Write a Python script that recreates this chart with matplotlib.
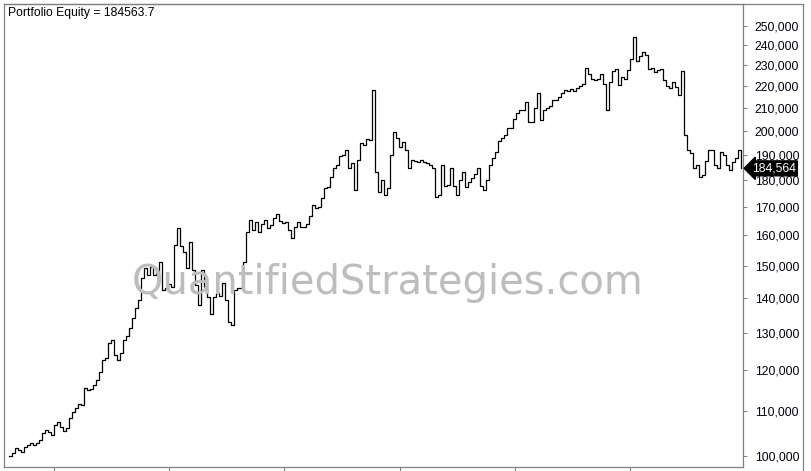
import numpy as np
import matplotlib
matplotlib.use('Agg')
import matplotlib.pyplot as plt
from matplotlib.ticker import FixedLocator, FuncFormatter, NullLocator, NullFormatter
from matplotlib.lines import Line2D

plt.rcParams['font.family'] = ['Liberation Sans', 'DejaVu Sans']

# portfolio equity in thousands
equity_k = [
    100.0, 100.6, 101.7, 101.3, 100.9, 101.9, 102.4, 102.8, 102.4, 102.8,
    103.5, 105.0, 105.7, 105.3, 104.6, 106.8, 107.5, 106.3, 105.5, 106.2,
    108.4, 109.8, 110.8, 111.7, 111.5, 115.6, 115.1, 115.3, 116.3, 117.6,
    119.6, 122.7, 123.2, 127.2, 128.0, 124.0, 122.7, 124.5, 128.0, 129.1,
    131.3, 134.2, 137.1, 139.4, 146.1, 149.2, 147.0, 149.6, 147.0, 147.9,
    151.2, 142.4, 143.0, 144.3, 143.4, 156.8, 162.6, 156.5, 154.4, 149.2,
    157.8, 148.6, 144.0, 137.9, 148.6, 143.4, 140.3, 135.3, 140.3, 141.5,
    140.6, 144.6, 139.4, 133.0, 132.2, 142.4, 143.0, 143.0, 151.2, 161.2,
    165.4, 161.9, 164.7, 161.2, 164.0, 165.4, 162.6, 163.6, 166.1, 167.5,
    165.0, 164.3, 164.7, 161.9, 159.2, 162.9, 164.7, 162.9, 162.9, 164.0,
    166.8, 170.7, 169.6, 170.0, 173.3, 177.0, 177.4, 181.2, 184.7, 185.9,
    189.5, 189.9, 191.9, 184.7, 186.7, 176.3, 187.9, 194.8, 194.0, 196.5,
    196.0, 218.1, 183.1, 175.5, 180.0, 174.4, 177.0, 189.9, 199.4, 196.9,
    193.1, 195.2, 191.9, 184.7, 187.9, 187.5, 187.1, 187.9, 187.1, 186.7,
    185.9, 184.7, 173.6, 174.4, 185.9, 177.8, 178.1, 184.7, 177.8, 174.4,
    180.0, 183.1, 177.4, 179.2, 180.8, 182.4, 184.7, 177.8, 176.3, 180.0,
    185.9, 188.7, 191.1, 195.6, 196.9, 198.2, 201.2, 201.2, 205.0, 207.7,
    209.0, 209.0, 212.6, 203.7, 203.7, 209.9, 216.7, 204.6, 209.0, 209.9,
    210.8, 213.5, 213.5, 214.9, 216.7, 218.1, 217.6, 218.6, 217.6, 219.0,
    220.0, 220.9, 228.6, 225.7, 223.3, 222.8, 223.3, 225.7, 220.9, 209.0,
    221.9, 227.1, 228.1, 220.4, 224.2, 223.3, 227.6, 233.0, 244.1, 232.0,
    234.5, 236.5, 235.0, 228.1, 228.6, 226.6, 227.6, 228.1, 222.8, 220.0,
    219.0, 221.9, 219.6, 215.8, 227.1, 198.2, 191.9, 190.7, 184.7, 185.9,
    181.2, 182.0, 187.5, 191.9, 191.9, 185.9, 184.7, 191.1, 189.9, 185.9,
    183.9, 187.1, 188.7, 191.9, 184.5637,
]
y_ticks = list(range(100000, 250001, 10000))

equity = np.array(equity_k) * 1000
bars = np.arange(len(equity))
last = equity[-1]

W, H = 812, 471
fig = plt.figure(figsize=(W / 100, H / 100), dpi=100)
ax = fig.add_axes([4 / W, 4 / H, 739 / W, 463 / H])

ax.plot(bars, equity, drawstyle='steps-post', color='black', lw=0.9, zorder=3)

ax.set_yscale('log')
ax.set_ylim(97683, 261940)
ax.set_xlim(-1.7, len(equity) - 1 + 0.7)

ax.yaxis.tick_right()
ax.yaxis.set_major_locator(FixedLocator(y_ticks))
ax.yaxis.set_major_formatter(FuncFormatter(lambda v, p: f'{v:,.0f}'))
ax.yaxis.set_minor_locator(NullLocator())
ax.yaxis.set_minor_formatter(NullFormatter())
ax.xaxis.set_major_locator(FixedLocator(np.arange(15, len(equity), 38.4)))

ax.tick_params(axis='y', direction='out', length=2.9, width=0.75, color='#808080',
               pad=5.5, labelsize=8.8, labelcolor='#000010')
ax.tick_params(axis='x', direction='out', length=2.9, width=0.75, color='#808080',
               labelbottom=False)
for s in ax.spines.values():
    s.set_color('#808080')
    s.set_linewidth(0.9)

# last value marker
ax.text((752 - 4) / 739, last, f'{last:,.0f}', transform=ax.get_yaxis_transform(),
        ha='left', va='center', color='white', fontsize=8.8, zorder=5, clip_on=False,
        bbox=dict(boxstyle='larrow,pad=0.12', fc='black', ec='black'))

# outer frame
fig.add_artist(Line2D([4 / W, 803 / W], [1 - 4 / H, 1 - 4 / H], color='#808080', lw=0.9))
fig.add_artist(Line2D([803 / W, 803 / W], [0, 1 - 4 / H], color='#808080', lw=0.9))

fig.text(8 / W, 1 - 16 / H, f'Portfolio Equity = {last:.1f}', ha='left', va='baseline',
         fontsize=8.7, color='black')

# watermark
fig.text(388 / W, 1 - 294 / H, 'QuantifiedStrategies.com', family='DejaVu Sans',
         ha='center', va='baseline', fontsize=28.8, color='#bdbdbd', zorder=0)
ax.set_facecolor('none')

fig.savefig('out.png', dpi=100)
